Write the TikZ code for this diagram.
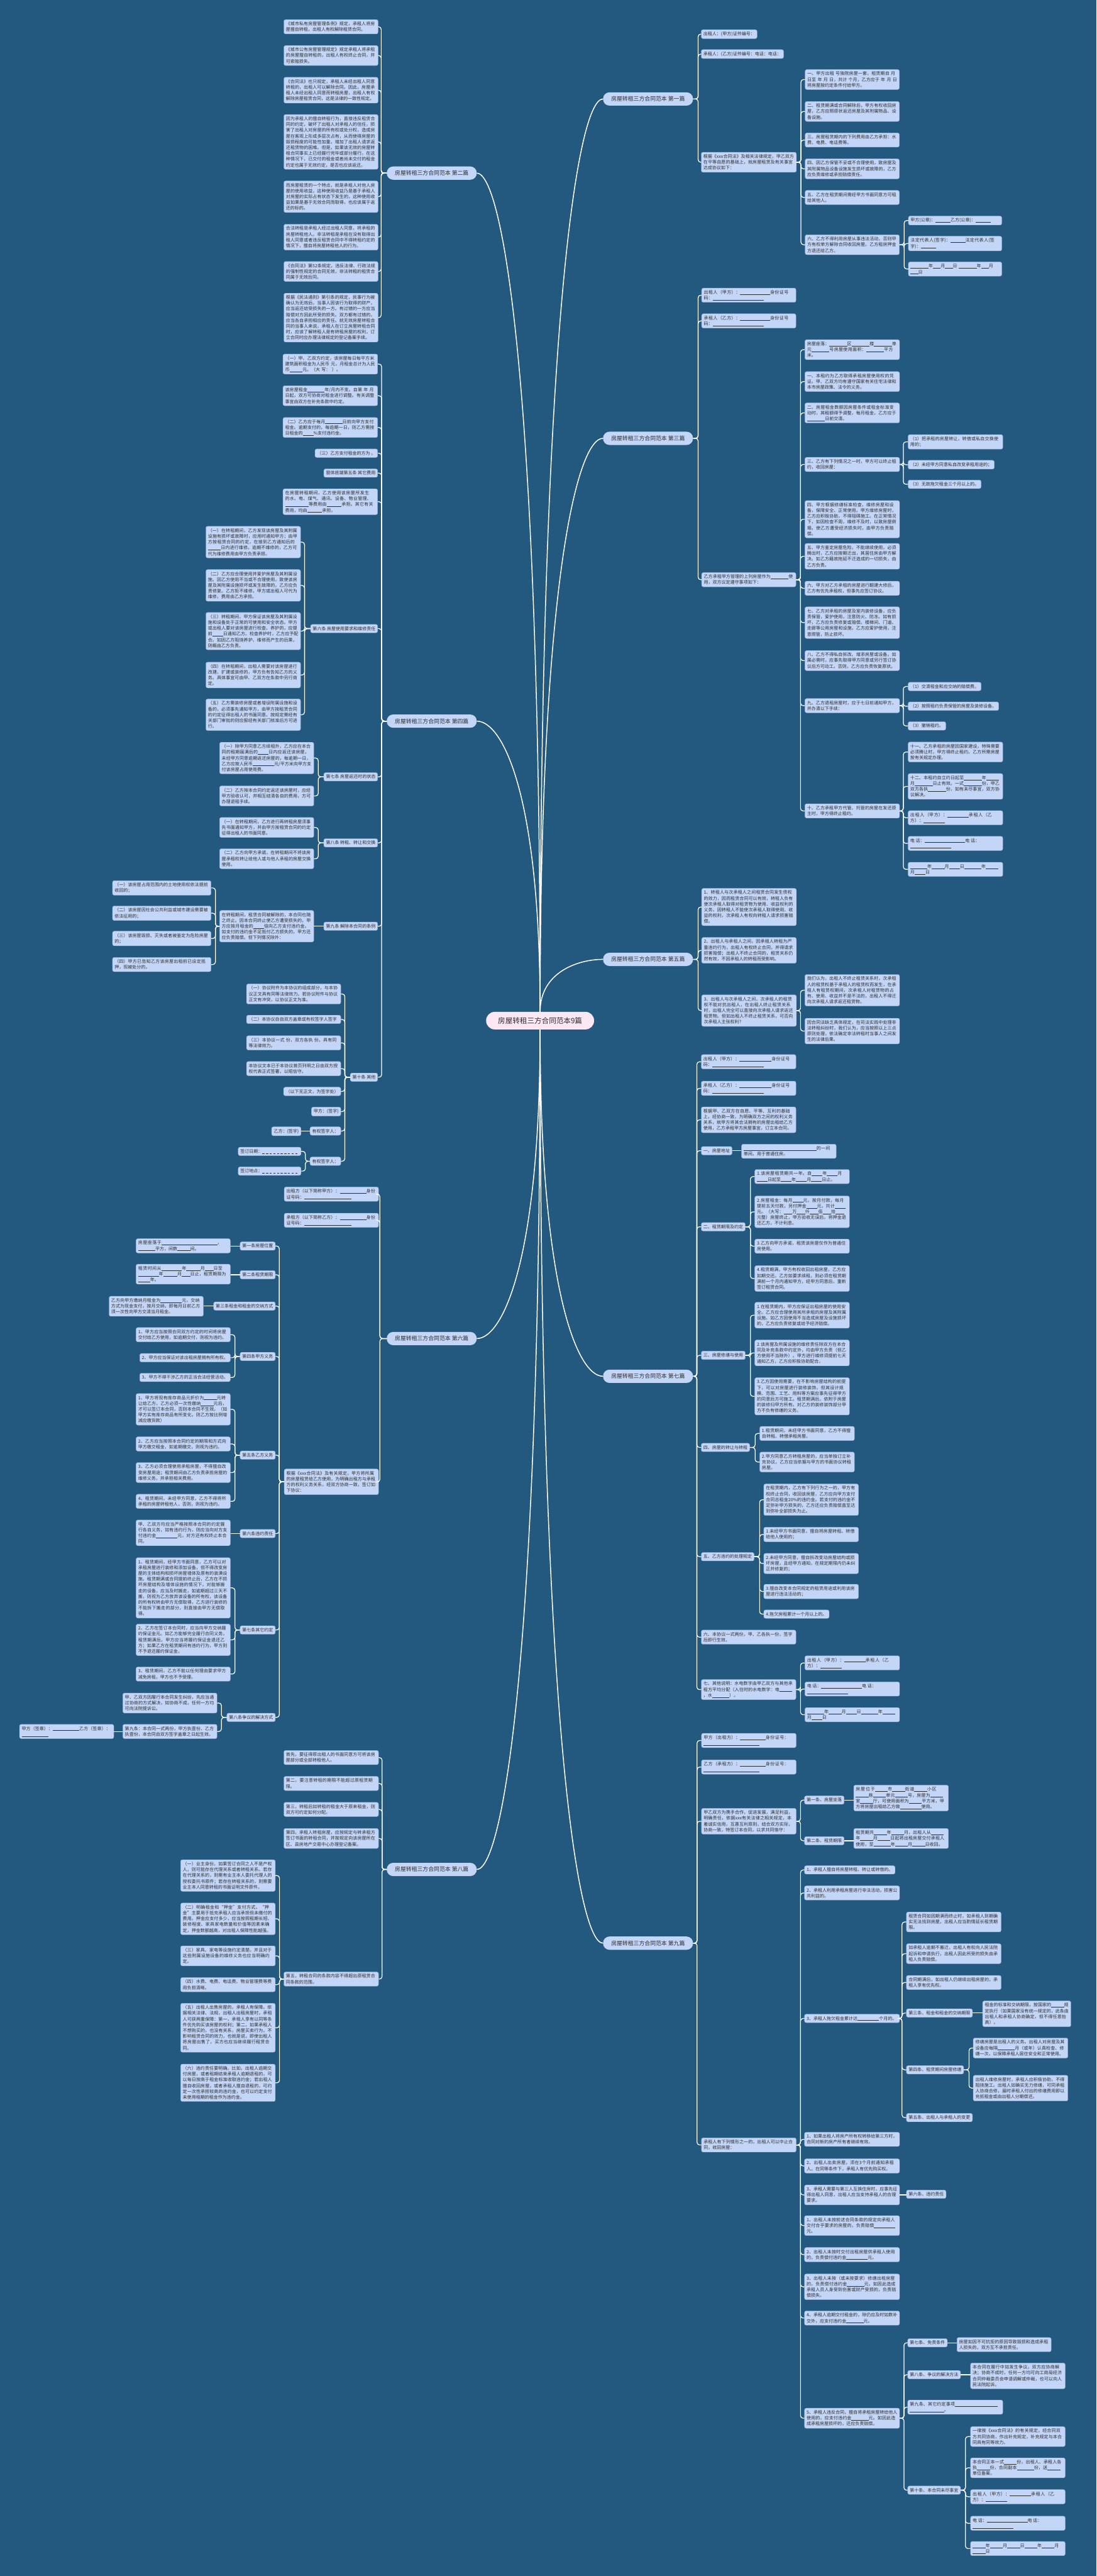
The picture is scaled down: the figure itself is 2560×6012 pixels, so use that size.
\documentclass[tikz,border=0pt]{standalone}
\usepackage{fontspec}
\setmainfont{Noto Sans CJK SC}
\XeTeXlinebreaklocale "zh"
\XeTeXlinebreakskip = 0pt plus 1pt
\setlength\parindent{0pt}
\usetikzlibrary{calc}
\definecolor{bgc}{HTML}{23597E}
\definecolor{leafc}{HTML}{C4D6F7}
\definecolor{leafb}{HTML}{9DB6DF}
\definecolor{pinkc}{HTML}{FCE7F5}
\definecolor{txtc}{HTML}{2B2B2B}
\newcommand\blnk[1]{\hskip0pt\rule[-1pt]{#1pt}{0.7pt}\hskip0pt}
\newcommand\dd{\blnk{5}\hspace{3.5pt}}
\newcommand\bxL[5]{\node[leaf,anchor=north east,text width=#4pt] (#1) at (#2,#3) {#5};}
\newcommand\bxR[5]{\node[leaf,anchor=north west,text width=#4pt] (#1) at (#2,#3) {#5};}
\newcommand\lbL[4]{\node[leaf,anchor=north east] (#1) at (#2,#3) {#4};}
\newcommand\lbR[4]{\node[leaf,anchor=north west] (#1) at (#2,#3) {#4};}
\newcommand\joinL[3]{\draw[conn] (#1.west) -- (#1.west -| #3) -- (#2.east -| #3) -- (#2.east);}
\newcommand\joinR[3]{\draw[conn] (#1.east) -- (#1.east -| #3) -- (#2.west -| #3) -- (#2.west);}
\newcommand\lineL[2]{\draw[conn] (#1.west) -- (#1.west -| #2.east);}
\newcommand\lineR[2]{\draw[conn] (#1.east) -- (#1.east -| #2.west);}
\tikzset{
  leaf/.style={fill=leafc,draw=leafb,line width=0.6pt,rounded corners=4pt,inner xsep=5pt,inner ysep=5pt,
    font=\fontsize{10.3}{13.5}\selectfont,text=txtc,align=left},
  branch/.style={fill=leafc,rounded corners=15pt,minimum width=210pt,minimum height=31pt,inner xsep=10pt,
    font=\fontsize{13}{15}\selectfont,text=txtc},
  centre/.style={fill=pinkc,rounded corners=20pt,minimum width=252pt,minimum height=41pt,
    font=\fontsize{17}{20}\selectfont,text=txtc},
  conn/.style={draw=white,line width=1.8pt,rounded corners=6pt},
  mainc/.style={draw=white,line width=2.2pt}
}
\begin{document}
\begin{tikzpicture}[x=1pt,y=-1pt]
\useasboundingbox (0,0) rectangle (2560,6012);
\fill[bgc] (0,0) rectangle (2560,6012);

% centre and branches
\node[centre] (C) at (1261,2382) {房屋转租三方合同范本9篇};
\node[branch] (B1) at (1513,231) {房屋转租三方合同范本 第一篇};
\node[branch] (B2) at (1008,404) {房屋转租三方合同范本 第二篇};
\node[branch] (B3) at (1513,1023) {房屋转租三方合同范本 第三篇};
\node[branch] (B4) at (1008,1683) {房屋转租三方合同范本 第四篇};
\node[branch] (B5) at (1513,2239) {房屋转租三方合同范本 第五篇};
\node[branch] (B6) at (1008,3124) {房屋转租三方合同范本 第六篇};
\node[branch] (B7) at (1513,3212) {房屋转租三方合同范本 第七篇};
\node[branch] (B8) at (1008,4363) {房屋转租三方合同范本 第八篇};
\node[branch] (B9) at (1513,4535) {房屋转租三方合同范本 第九篇};
\draw[mainc] (C.north) .. controls (1261,764) and (1348,231) .. (B1.west);
\draw[mainc] (C.north) .. controls (1261,1358) and (1348,1023) .. (B3.west);
\draw[mainc] (C.north) .. controls (1261,2270) and (1348,2239) .. (B5.west);
\draw[mainc] (C.north) .. controls (1261,893) and (1173,404) .. (B2.east);
\draw[mainc] (C.north) .. controls (1261,1853) and (1173,1683) .. (B4.east);
\draw[mainc] (C.south) .. controls (1261,3010) and (1348,3212) .. (B7.west);
\draw[mainc] (C.south) .. controls (1261,4002) and (1348,4535) .. (B9.west);
\draw[mainc] (C.south) .. controls (1261,2944) and (1173,3124) .. (B6.east);
\draw[mainc] (C.south) .. controls (1261,3873) and (1173,4363) .. (B8.east);

% ===== 第二篇 =====
\coordinate (s2) at (890,0);
\bxL{a1}{883}{45.5}{210}{《城市私有房屋管理条例》规定，承租人将房屋擅自转租，出租人有权解除租赁合同。}
\bxL{a2}{883}{106}{210}{《城市公有房屋管理规定》规定承租人将承租的房屋擅自转租的，出租人有权终止合同，并可索赔损失。}
\bxL{a3}{883}{180}{210}{《合同法》也只规定，承租人未经出租人同意转租的，出租人可以解除合同。因此，房屋承租人未经出租人同意而转租房屋，出租人有权解除房屋租赁合同，这是法律的一致性规定。}
\bxL{a4}{883}{267}{210}{因为承租人的擅自转租行为，直接违反租赁合同的约定，破坏了出租人对承租人的信任，损害了出租人对房屋的所有权或处分权，造成房屋在客观上形成多层次占有，从而使得房屋的毁损程度的可能性加重，增加了出租人请求返还租赁物的困难。但是，如果该无效的房屋转租合同事实上已经履行完毕或部分履行。在这种情况下，已交付的租金或者尚未交付的租金约定也属于无效约定，是否也应该返还。}
\bxL{a5}{883}{422}{210}{而房屋租赁的一个特点，就是承租人对他人房屋的使用收益，这种使用收益乃是基于承租人对房屋的实际占有状态下发生的，这种使用收益如果是基于无效合同而取得，也应该属于返还的标的。}
\bxL{a6}{883}{523}{210}{合法转租是承租人经过出租人同意，将承租的房屋转租他人。非法转租是承租在没有取得出租人同意或者违反租赁合同中不得转租约定的情况下，擅自将房屋转租他人的行为。}
\bxL{a7}{883}{610}{210}{《合同法》第52条规定，违反法律、行政法规的强制性规定的合同无效，非法转租的租赁合同属于无效后同。}
\bxL{a8}{883}{684}{210}{根据《民法通则》第引条的规定，民事行为被确认为无效后，当事人因该行为取得的财产，应当返还给受损失的一方。有过错的一方应当赔偿对方因此所受的损失。双方都有过错的，应当各自承担相应的责任。就无效房屋转租合同的当事人来说，承租人在订立房屋转租合同时，应该了解转租人是有转租房屋的权利，订立合同时应办理法律规定的登记备案手续。}
\foreach \c in {a1,a2,a3,a4,a5,a6,a7,a8} {\joinL{B2}{\c}{s2}}

% ===== 第四篇 =====
\coordinate (s4) at (891,0);
\coordinate (s4a) at (711,0);
\coordinate (s4b) at (743,0);
\coordinate (s4c) at (503,0);
\coordinate (s4d) at (805,0);
\coordinate (s4e) at (713,0);
\bxL{d1}{882}{826}{211}{（一）甲、乙双方约定，该房屋每日每平方米建筑面积租金为人民币 元，月租金总计为人民币\blnk{30}元。（大 写： ）。}
\bxL{d2}{882}{900}{211}{该房屋租金\blnk{40}年/月内不变。自第 年 月 日起，双方可协商对租金进行调整。有关调整事宜由双方在补充条款中约定。}
\bxL{d3}{882}{974}{211}{（二）乙方应于每月\blnk{40}日前向甲方支付租金。逾期支付的，每逾期一日，则乙方需按日租金的\blnk{25}\%支付违约金。}
\lbL{d4}{882}{1047.5}{（三）乙方支付租金的方为 。}
\lbL{d5}{882}{1094}{窗体底端第五条 其它费用}
\bxL{d6}{882}{1140.5}{211}{在房屋转租期间，乙方使用该房屋所发生的水、电、煤气、通讯、设备、物业管理、\blnk{55}等费用由\blnk{35}承担。其它有关费用，均由\blnk{35}承担。}
\lbL{d7}{882}{1457}{第六条 房屋使用要求和维修责任}
\bxL{d7a}{702}{1228}{211}{（一）在转租期间，乙方发现该房屋及其附属设施有损坏或故障时，应用时通知甲方；由甲方按租赁合同的约定，在接到乙方通知后的\blnk{30}日内进行维修。逾期不维修的，乙方可代为维修费用由甲方负责承担。}
\bxL{d7b}{702}{1329}{211}{（二）乙方应合理使用并爱护房屋及其附属设施。因乙方使用不当或不合理使用，致使该房屋及其附属设施损坏或发生故障的，乙方应负责修复。乙方拒不维修，甲方或出租人可代为维修，费用由乙方承担。}
\bxL{d7c}{702}{1429}{211}{（三）转租期间，甲方保证该房屋及其附属设施和设备处于正常的可使用和安全状态。甲方或出租人要对该房屋进行检查、养护的，应提前\blnk{25}日通知乙方。检查养护时，乙方应予配合。如因乙方阻挠养护、维修而产生的后果，则概由乙方负责。}
\bxL{d7d}{702}{1545}{211}{（四）在转租期间，出租人需要对该房屋进行改建、扩建或装修的，甲方负有告知乙方的义务。具体事宜可由甲、乙双方在条款中另行商定。}
\bxL{d7e}{702}{1631}{211}{（五）乙方需装修房屋或者增设附属设施和设备的，必须事先通知甲方，由甲方按租赁合同的约定征得出租人的书面同意。按规定需经有关部门审批的则应报经有关部门核准后方可进行。}
\lbL{d8}{882}{1803}{第七条 房屋返还时的状态}
\bxL{d8a}{733}{1732}{210}{（一）除甲方同意乙方续租外，乙方应在本合同的租期届满后的\blnk{25}日内应返还该房屋，未经甲方同意逾期返还房屋的，每逾期一日，乙方应按人民币\blnk{50}元/平方米向甲方支付该房屋占用使用费。}
\bxL{d8b}{733}{1834}{210}{（二）乙方按本合同约定返还该房屋时，应经甲方验收认可，并相互结清各自的费用，方可办理退租手续。}
\lbL{d9}{882}{1957}{第八条 转租、转让和交换}
\bxL{d9a}{733}{1907.5}{210}{（一）在转租期间，乙方进行再转租房屋须事先书面通知甲方，并由甲方按租赁合同的约定征得出租人的书面同意。}
\bxL{d9b}{733}{1980.5}{210}{（二）乙方向甲方承诺，在转租期间不将该房屋承租权转让给他人或与他人承租的房屋交换使用。}
\lbL{d10}{882}{2151.6}{第九条 解除本合同的条例}
\bxL{d10a}{733}{2124.5}{210}{在转租期间，租赁合同被解除的，本合同也随之终止。因本合同终止使乙方遭受损失的，甲方应按月租金的\blnk{25}倍向乙方支付违约金。如支付的违约金不足抵付乙方损失的，甲方还应负责赔偿。但下列情况除外：}
\bxL{d10a1}{493}{2055}{220}{（一）该房屋占用范围内的土地使用权依法提前收回的；}
\bxL{d10a2}{493}{2114}{220}{（二）该房屋因社会公共利益或城市建设需要被依法征用的；}
\bxL{d10a3}{493}{2173}{220}{（三）该房屋毁损、灭失或者被鉴定为危险房屋的；}
\bxL{d10a4}{493}{2234}{220}{（四）甲方已告知乙方该房屋出租前已设定抵押，现被处分的。}
\lbL{d11}{882}{2504}{第十条 其他}
\bxL{d11a}{796}{2296}{210}{（一）协议附件为本协议的组成部分，与本协议正文具有同等法律效力。若协议附件与协议正文有冲突，以协议正文为准。}
\bxL{d11b}{796}{2369}{210}{（二）本协议自自双方盖章或有权签字人签字}
\bxL{d11c}{796}{2417}{210}{（三）本协议一式 份，双方各执 份，具有同等法律效力。}
\bxL{d11d}{796}{2477}{210}{本协议文本已于本协议首页列明之日由双方授权代表正式签署，以昭信守。}
\lbL{d11e}{796}{2537}{（以下无正文，为签字处）}
\lbL{d11f}{796}{2583.5}{甲方：(签字)}
\lbL{d11g}{796}{2629.5}{有权签字人：}
\lbL{d11g1}{703}{2629.5}{乙方：(签字)}
\lbL{d11h}{796}{2700}{有权签字人：}
\lbL{d11h1}{703}{2677}{签订日期：\dd\dd\dd\dd\dd\dd\dd\dd\dd\dd}
\lbL{d11h2}{703}{2723}{签订地点：\dd\dd\dd\dd\dd\dd\dd\dd\dd\dd}
\foreach \c in {d1,d2,d3,d4,d5,d6,d7,d8,d9,d10,d11} {\joinL{B4}{\c}{s4}}
\foreach \c in {d7a,d7b,d7c,d7d,d7e} {\joinL{d7}{\c}{s4a}}
\foreach \c in {d8a,d8b} {\joinL{d8}{\c}{s4b}}
\foreach \c in {d9a,d9b} {\joinL{d9}{\c}{s4b}}
\lineL{d10}{d10a}
\foreach \c in {d10a1,d10a2,d10a3,d10a4} {\joinL{d10a}{\c}{s4c}}
\foreach \c in {d11a,d11b,d11c,d11d,d11e,d11f,d11g,d11h} {\joinL{d11}{\c}{s4d}}
\lineL{d11g}{d11g1}
\foreach \c in {d11h1,d11h2} {\joinL{d11h}{\c}{s4e}}

% ===== 第六篇 =====
\coordinate (s6) at (887,0);
\coordinate (s6a) at (652,0);
\coordinate (s6b) at (548.5,0);
\coordinate (s6c) at (517,0);
\bxL{f1}{884}{2770}{210}{出租方（以下简称甲方）：\blnk{62}身份证号码：\blnk{110}}
\bxL{f2}{884}{2831}{210}{承租方（以下简称乙方）：\blnk{62}身份证号码：\blnk{110}}
\bxL{f3}{884}{3428}{210}{根据《xxx合同法》及有关规定，甲方将所属的房屋租赁给乙方使用，为明确出租方与承租方的权利义务关系，经双方协商一致，签订如下协议：}
\lbL{g1}{643}{2898}{第一条房屋位置}
\bxL{g1a}{538}{2890.6}{210}{房屋座落于\blnk{130}，\blnk{40}平方，间数\blnk{30}间。}
\lbL{g2}{643}{2965}{第二条租赁期限}
\bxL{g2a}{538}{2950}{210}{租赁时间从\blnk{48}年\blnk{33}月\blnk{20}日至\blnk{48}年\blnk{33}月\blnk{20}日止，租赁期限为\blnk{28}年。}
\lbL{g3}{643}{3038}{第三条租金和租金的交纳方式}
\bxL{g3a}{475}{3025}{210}{乙方向甲方缴纳月租金为\blnk{50}元，交纳方式为现金支付，按月交纳，即每月日前乙方须一次性向甲方交清当月租金。}
\lbL{g4}{643}{3155.7}{第四条甲方义务}
\bxL{g4a}{538}{3098}{210}{1、甲方应当按照合同双方约定的时间将房屋交付给乙方使用，如逾期交付，则视为违约。}
\lbL{g4b}{538}{3158.6}{2、甲方应当保证对该出租房屋拥有所有权。}
\lbL{g4c}{538}{3204.6}{3、甲方不得干涉乙方的正当合法经营活动。}
\lbL{g5}{643}{3386}{第五条乙方义务}
\bxL{g5a}{538}{3252}{210}{1、甲方将现有库存商品元折价为\blnk{30}元转让给乙方，乙方必须一次性缴纳\blnk{30}元后，才可以签订本合同，否则本合同不生效。（如甲方实有库存商品有所变化，则乙方按比例增减应缴货款）}
\bxL{g5b}{538}{3353}{210}{2、乙方应当按照本合同约定的期限和方式向甲方缴交租金，如逾期缴交，则视为违约。}
\bxL{g5c}{538}{3413}{210}{3、乙方必须合理使用承租房屋，不得擅自改变房屋用途；租赁期间由乙方负责承担房屋的维修义务，并承担相关费用。}
\bxL{g5d}{538}{3487}{210}{4、租赁期间，未经甲方同意，乙方不得将所承租的房屋转租他人，否则，则视为违约。}
\lbL{g6}{643}{3569}{第六条违约责任}
\bxL{g6a}{538}{3547}{210}{甲、乙双方均应当严格按照本合同的约定履行各自义务，如有违约行为，则应当向对方支付违约金\blnk{50}元，对方还有权终止本合同。}
\lbL{g7}{643}{3794}{第七条其它约定}
\bxL{g7a}{538}{3635}{210}{1、租赁期间，经甲方书面同意，乙方可以对承租房屋进行装修和添加设备，但不得改变房屋的主体结构和损坏房屋墙体及原有的装潢设施。租赁期满或合同提前终止后，乙方在不损坏房屋结构及墙体设施的情况下，对能够搬走的设备，应当及时搬走，如逾期超过三天不搬，则视为乙方放弃该设备的所有权，该设备的所有权转由甲方无偿取得，乙方进行装修的不能拆下搬走的部分，则直接由甲方无偿取得。}
\bxL{g7b}{538}{3790}{210}{2、乙方在签订本合同时，应当向甲方交纳履约保证金元。如乙方能够完全履行合同义务，租赁期满后，甲方应当将履约保证金退还乙方；如果乙方在租赁期间有违约行为，甲方则不予退还履约保证金。}
\bxL{g7c}{538}{3890}{210}{3、租赁期间，乙方不能以任何理由要求甲方减免房租，甲方也不予受理。}
\lbL{g8}{643}{3998}{第八条争议的解决方式}
\bxL{g8a}{507}{3951}{210}{甲、乙双方因履行本合同发生纠纷，先应当通过协商的方式解决，如协商不成，任何一方均可向法院提诉讼。}
\bxL{g8b}{507}{4024}{210}{第九条：本合同一式两份，甲方执壹份、乙方执壹份，本合同自双方签字盖章之日起生效。}
\bxL{g8b1}{266}{4024}{210}{甲方（签章）：\blnk{62}乙方（签章）：\blnk{62}}
\foreach \c in {f1,f2,f3} {\joinL{B6}{\c}{s6}}
\foreach \c in {g1,g2,g3,g4,g5,g6,g7,g8} {\joinL{f3}{\c}{s6a}}
\lineL{g1}{g1a}
\lineL{g2}{g2a}
\lineL{g3}{g3a}
\lineL{g6}{g6a}
\foreach \c in {g4a,g4b,g4c} {\joinL{g4}{\c}{s6b}}
\foreach \c in {g5a,g5b,g5c,g5d} {\joinL{g5}{\c}{s6b}}
\foreach \c in {g7a,g7b,g7c} {\joinL{g7}{\c}{s6b}}
\foreach \c in {g8a,g8b} {\joinL{g8}{\c}{s6c}}
\lineL{g8b}{g8b1}

% ===== 第八篇 =====
\coordinate (s8) at (892,0);
\coordinate (s8a) at (652.6,0);
\bxL{h1}{884}{4085}{211}{首先，要征得原出租人的书面同意方可将该房屋部分或全部转租他人。}
\bxL{h2}{884}{4145.5}{211}{第二，要注意转租的期限不能超过原租赁期限。}
\bxL{h3}{884}{4206}{211}{第三，转租后如转租的租金大于原来租金，则双方可约定如何分配。}
\bxL{h4}{884}{4267}{211}{第四，承租人转租房屋，应按规定与转承租方签订书面的转租合同，并按规定向该房屋所在区、县房地产交易中心办理登记备案。}
\bxL{h5}{884}{4602}{211}{第五，转租合同的条款内容不得超出原租赁合同条款的范围。}
\bxL{h5a}{643}{4340}{211}{（一）业主身份。如果签订合同之人不是产权人，则可能存在代理关系或者转租关系。若存在代理关系的，则需有业主本人委托代理人的授权委托书原件；若存在转租关系的，则需要业主本人同意转租的书面证明文件原件。}
\bxL{h5b}{643}{4441}{211}{（二）明确租金和“押金”支付方式。“押金”主要用于抵充承租人应当承担但未缴付的费用。押金应支付多少，应当按照租期长短、装修程度、家具家电数量和价值等因素来确定，押金数额越高，对出租人保障性能越强。}
\bxL{h5c}{643}{4541}{211}{（三）家具、家电等设施约定清楚。并且对于这些附属设施设备的维修义务也应当明确约定。}
\bxL{h5d}{643}{4615}{211}{（四）水费、电费、电话费、物业管理费等费用负担清晰。}
\bxL{h5e}{643}{4675}{211}{（五）出租人出售房屋的，承租人有保障。依据相关法律、法规，出租人出租房屋时，承租人可获两重保障：第一，承租人享有以同等条件优先购买该房屋的权利；第二，如果承租人不想购买的，也没有关系，房屋买卖行为，不影响租赁合同的效力，也就是说，即使出租人将房屋出售了，买方也应当继续履行租赁合同。}
\bxL{h5f}{643}{4817}{211}{（六）违约责任要明确。比如，出租人逾期交付房屋，或者租期结束承租人逾期退租的，可以每日按高于租金标准收取违约金；若出租人擅自收回房屋，或者承租人擅自退租的，可约定一次性承担较高的违约金，也可以约定支付未使用租期的租金作为违约金。}
\foreach \c in {h1,h2,h3,h4,h5} {\joinL{B8}{\c}{s8}}
\foreach \c in {h5a,h5b,h5c,h5d,h5e,h5f} {\joinL{h5}{\c}{s8a}}

% ===== 第一篇 =====
\coordinate (s1) at (1630,0);
\coordinate (s1a) at (1870,0);
\coordinate (s1b) at (2111,0);
\lbR{i1}{1637}{69}{出租人：(甲方)证件编号：}
\lbR{i2}{1637}{115.5}{承租人：(乙方)证件编号：电话：电话：}
\bxR{i3}{1637}{355}{212}{根据《xxx合同法》及相关法律规定，甲乙双方在平等自愿的基础上，就房屋租赁及有关事宜达成协议如下：}
\bxR{i3a}{1879.5}{162}{210}{一、甲方出租 号独院房屋一套，租赁期自 月 日至 年 月 日，共计 个月，乙方应于 年 月 日将房屋按约定条件付给甲方。}
\bxR{i3b}{1879.5}{236.5}{210}{二、租赁期满或合同解除后，甲方有权收回房屋，乙方应照原状返还房屋及其附属物品、设备设施。}
\bxR{i3c}{1879.5}{310}{210}{三、房屋租赁期内的下列费用由乙方承担：水费、电费、电话费等。}
\bxR{i3d}{1879.5}{370.5}{210}{四、因乙方保管不妥或不合理使用，致房屋及其附属物品设备设施发生损坏或故障的，乙方应负责维修或承担赔偿责任。}
\bxR{i3e}{1879.5}{444}{210}{五、乙方在租赁期间需经甲方书面同意方可租给其他人。}
\bxR{i3f}{1879.5}{547.6}{210}{六、乙方不得利用房屋从事违法活动，否则甲方有权单方解除合同收回房屋。乙方租房押金方退还给乙方。}
\bxR{i3f1}{2120.6}{504}{208}{甲方(公章)：\blnk{35} 乙方(公章)：\blnk{35}}
\bxR{i3f2}{2120.6}{551}{208}{法定代表人(签字)：\blnk{35} 法定代表人(签字)：\blnk{35}}
\bxR{i3f3}{2120.6}{611}{208}{\blnk{42}年\blnk{18}月\blnk{18}日 \blnk{42}年\blnk{18}月\blnk{18}日}
\foreach \c in {i1,i2,i3} {\joinR{B1}{\c}{s1}}
\foreach \c in {i3a,i3b,i3c,i3d,i3e,i3f} {\joinR{i3}{\c}{s1a}}
\foreach \c in {i3f1,i3f2,i3f3} {\joinR{i3f}{\c}{s1b}}

% ===== 第三篇 =====
\coordinate (s3) at (1630,0);
\coordinate (s3a) at (1869,0);
\coordinate (s3b) at (2109,0);
\bxR{j1}{1638}{672}{210}{出租人（甲方）：\blnk{70}身份证号码：\blnk{120}}
\bxR{j2}{1638}{732}{210}{承租人（乙方）：\blnk{70}身份证号码：\blnk{120}}
\bxR{j3}{1638}{1336}{210}{乙方承租甲方管理的上列房屋作为\blnk{42}使用，双方议定遵守事项如下：}
\bxR{j3a}{1879}{792.5}{211}{房屋座落：\blnk{42}区\blnk{42}楼\blnk{42}单元\blnk{42}号房屋使用面积：\blnk{42}平方米。}
\bxR{j3b}{1879}{867}{211}{一、本租约为乙方取得承租房屋使用权的凭证。甲、乙双方均有遵守国家有关住宅法律和本市房屋政策、法令的义务。}
\bxR{j3c}{1879}{940}{211}{二、房屋租金数额因房屋条件或租金标准变动时，其租额得予调整，每月租金，乙方应于\blnk{42}日前交清。}
\bxR{j3d}{1879}{1067}{211}{三、乙方有下列情况之一时，甲方可以终止租约，收回房屋：}
\bxR{j3d1}{2120}{1014}{211}{（1）把承租的房屋转让，转借或私自交换使用的；}
\lbR{j3d2}{2120}{1074}{（2）未经甲方同意私自改变承租用途的；}
\lbR{j3d3}{2120}{1120}{（3）无故拖欠租金三个月以上的。}
\bxR{j3e}{1879}{1168}{211}{四、甲方根据修缮标准检查，维修房屋和设备，保障安全、正常使用。甲方维修房屋时，乙方应积极协助，不得阻碍施工。在正常情况下，如因检查不周，维修不及时，以致房屋倒塌，使乙方遭受经济损失时，由甲方负责赔偿。}
\bxR{j3f}{1879}{1268}{211}{五、甲方鉴定房屋危险，不能继续使用，必须腾出时，乙方应按期迁出，其居住房由甲方解决。如乙方藉故拖延不迁造成的一切损失，由乙方负责。}
\bxR{j3g}{1879}{1356}{211}{六、甲方对乙方承租的房屋进行翻建大修后，乙方有优先承租权，但事先应签订协议。}
\bxR{j3h}{1879}{1416}{211}{七、乙方对承租的房屋及室内装修设备，应负责保管，爱护使用，注意防火、防冻。如有损坏，乙方应负责修复或赔偿。楼梯间、门道、走廊等公用房屋和设施，乙方应爱护使用，注意照管，防止损坏。}
\bxR{j3i}{1879}{1518}{211}{八、乙方不得私自拆改、增添房屋或设备。如属必需时，应事先取得甲方同意或另行签订协议后方可动工。否则，乙方应负责恢复原状。}
\bxR{j3j}{1879}{1630}{211}{九、乙方退租房屋时，应于七日前通知甲方，并办清以下手续：}
\lbR{j3j1}{2120}{1592}{（1）交清租金和应交纳的赔偿费。}
\lbR{j3j2}{2120}{1638}{（2）按照租约负责保管的房屋及装修设备。}
\lbR{j3j3}{2120}{1684}{（3）撤销租约。}
\bxR{j3k}{1879}{1875.6}{211}{十、乙方承租甲方代管、托管的房屋在发还原主时，甲方得终止租约。}
\bxR{j3k1}{2120}{1731.5}{211}{十一、乙方承租的房屋因国家建设，特殊需要必须腾让时，甲方得终止租约。乙方所需房屋按有关规定办理。}
\bxR{j3k2}{2120}{1805}{211}{十二、本租约自立约日起至\blnk{42}年\blnk{30}月\blnk{42}日止有效。一式\blnk{42}份，甲乙双方各执\blnk{42}份，如有未尽事宜，双方协议解决。}
\bxR{j3k3}{2120}{1891.6}{211}{出租人（甲方）：\blnk{50}承租人（乙方）：\blnk{50}}
\bxR{j3k4}{2120}{1951.5}{211}{电话：\blnk{95}电话：\blnk{95}}
\bxR{j3k5}{2120}{2012}{211}{\blnk{40}年\blnk{30}月\blnk{25}日\blnk{40}年\blnk{30}月\blnk{25}日}
\foreach \c in {j1,j2,j3} {\joinR{B3}{\c}{s3}}
\foreach \c in {j3a,j3b,j3c,j3d,j3e,j3f,j3g,j3h,j3i,j3j,j3k} {\joinR{j3}{\c}{s3a}}
\foreach \c in {j3d1,j3d2,j3d3} {\joinR{j3d}{\c}{s3b}}
\foreach \c in {j3j1,j3j2,j3j3} {\joinR{j3j}{\c}{s3b}}
\foreach \c in {j3k1,j3k2,j3k3,j3k4,j3k5} {\joinR{j3k}{\c}{s3b}}

% ===== 第五篇 =====
\coordinate (s5) at (1630,0);
\coordinate (s5a) at (1869,0);
\bxR{k1}{1638}{2073}{211}{1、转租人与次承租人之间租赁合同发生债权的效力，因而租赁合同可以有效，转租人负有使次承租人取得对租赁物为使用、收益权利的义务，因转租人不能使次承租人取得使用、收益的权利，次承租人有权向转租人请求损害赔偿。}
\bxR{k2}{1638}{2187.5}{211}{2、出租人与承租人之间，因承租人转租为严重违约行为，出租人有权终止合同，并得请求损害赔偿；出租人不终止合同的，租赁关系仍然有效，不因承租人的转租而受影响。}
\bxR{k3}{1638}{2321.5}{211}{3、出租人与次承租人之间，次承租人的租赁权不能对抗出租人，在出租人终止租赁关系时，出租人完全可以直接向次承租人请求返还租赁物。但如出租人不终止租赁关系，可否向次承租人主张权利？}
\bxR{k3a}{1879}{2274}{211}{我们认为，出租人不终止租赁关系时，次承租人的租赁权基于承租人的租赁权而发生，在承租人有租赁权期间，次承租人对租赁物的占有、使用、收益并不是不法的，出租人不得迁向次承租人请求返还租赁物。}
\bxR{k3b}{1879}{2376}{211}{因合同法缺乏具体规定，在司法实践中处理非法转租纠纷时，我们认为，应当按照以上三点原则处理，依法确定非法转租时当事人之间发生的法律后果。}
\foreach \c in {k1,k2,k3} {\joinR{B5}{\c}{s5}}
\foreach \c in {k3a,k3b} {\joinR{k3}{\c}{s5a}}

% ===== 第七篇 =====
\coordinate (s7) at (1627,0);
\coordinate (s7a) at (1752,0);
\coordinate (s7b) at (1763,0);
\coordinate (s7c) at (1773.6,0);
\coordinate (s7d) at (1869,0);
\bxR{m1}{1637}{2461}{211}{出租人（甲方）：\blnk{75}身份证号码：\blnk{120}}
\bxR{m2}{1637}{2523}{211}{承租人（乙方）：\blnk{75}身份证号码：\blnk{120}}
\bxR{m3}{1637}{2583}{211}{根据甲、乙双方在自愿、平等、互利的基础上，经协商一致，为明确双方之间的权利义务关系，就甲方将其合法拥有的房屋出租给乙方使用，乙方承租甲方房屋事宜，订立本合同。}
\lbR{m4}{1637}{2675.5}{一、房屋地址}
\bxR{m4a}{1731}{2670}{211}{\blnk{170}的一间单间。用于普通住房。}
\lbR{m5}{1637}{2853}{二、租赁期限及约定}
\bxR{m5a}{1762}{2729}{211}{1.该房屋租赁期共一年。自\blnk{25}年\blnk{25}月\blnk{25}日起至\blnk{25}年\blnk{25}月\blnk{25}日止。}
\bxR{m5b}{1762}{2791}{211}{2.房屋租金：每月\blnk{25}元，按月付款，每月提前五天付款，另付押金\blnk{25}元，共计\blnk{25}元。（大写：\blnk{20}万\blnk{20}仟\blnk{20}佰\blnk{20}拾\blnk{20}元整）房屋终止，甲方验收无误后，将押金退还乙方，不计利息。}
\bxR{m5c}{1762}{2891.5}{211}{3.乙方向甲方承诺，租赁该房屋仅作为普通住房使用。}
\bxR{m5d}{1762}{2953.5}{211}{4.租赁期满，甲方有权收回出租房屋，乙方应如期交还。乙方如要求续租，则必须在租赁期满前一个月内通知甲方，经甲方同意后，重新签订租赁合同。}
\lbR{m6}{1637}{3153}{三、房屋修缮与使用}
\bxR{m6a}{1762}{3039}{211}{1.在租赁期内，甲方应保证出租房屋的使用安全。乙方应合理使用其所承租的房屋及其附属设施。如乙方因使用不当造成房屋及设施损坏的，乙方应负责修复或给予经济赔偿。}
\bxR{m6b}{1762}{3127}{211}{2.该房屋及所属设施的维修责任除双方在本合同及补充条款中约定外，均由甲方负责（但乙方使用不当除外）。甲方进行维修须提前七天通知乙方，乙方应积极协助配合。}
\bxR{m6c}{1762}{3215}{211}{3.乙方因使用需要，在不影响房屋结构的前提下，可以对房屋进行装修装饰，但其设计规模、范围、工艺、用料等方案应事先征得甲方的同意后方可施工。租赁期满后，依附于房屋的装修归甲方所有。对乙方的装修装饰部分甲方不负有修缮的义务。}
\lbR{m7}{1637}{3368}{四、房屋的转让与转租}
\bxR{m7a}{1773.6}{3328.6}{211}{1.租赁期间，未经甲方书面同意，乙方不得擅自转租、转借承租房屋。}
\bxR{m7b}{1773.6}{3388.5}{211}{2.甲方同意乙方转租房屋的，应当单独订立补充协议，乙方应当依据与甲方的书面协议转租房屋。}
\lbR{m8}{1637}{3623}{五、乙方违约的处理规定}
\bxR{m8a}{1783}{3463}{211}{在租赁期内，乙方有下列行为之一的，甲方有权终止合同，收回该房屋，乙方应向甲方支付合同总租金20\%的违约金。若支付的违约金不足弥补甲方损失的，乙方还应负责赔偿直至达到弥补全部损失为止。}
\bxR{m8b}{1783}{3564}{211}{1.未经甲方书面同意，擅自将房屋转租、转借给他人使用的；}
\bxR{m8c}{1783}{3625}{211}{2.未经甲方同意，擅自拆改变动房屋结构或损坏房屋，且经甲方通知，在规定期限内仍未纠正并修复的；}
\bxR{m8d}{1783}{3697}{211}{3.擅自改变本合同规定的租赁用途或利用该房屋进行违法活动的；}
\lbR{m8e}{1783}{3757}{4.拖欠房租累计一个月以上的。}
\bxR{m9}{1637}{3804}{211}{六、本协议一式两份，甲、乙各执一份，签字后即行生效。}
\bxR{m10}{1637}{3919.5}{211}{七、其他说明：水电数字由甲乙双方与其他承租方平均分配（入住时的水电数字：电\blnk{30}，水\blnk{40}）。}
\bxR{m10a}{1879}{3864}{211}{出租人（甲方）：\blnk{50}承租人（乙方）：\blnk{50}}
\bxR{m10b}{1879}{3925}{211}{电话：\blnk{95}电话：\blnk{95}}
\bxR{m10c}{1879}{3985}{211}{\blnk{40}年\blnk{30}月\blnk{25}日\blnk{40}年\blnk{30}月\blnk{25}日}
\foreach \c in {m1,m2,m3,m4,m5,m6,m7,m8,m9,m10} {\joinR{B7}{\c}{s7}}
\lineR{m4}{m4a}
\foreach \c in {m5a,m5b,m5c,m5d} {\joinR{m5}{\c}{s7a}}
\foreach \c in {m6a,m6b,m6c} {\joinR{m6}{\c}{s7a}}
\foreach \c in {m7a,m7b} {\joinR{m7}{\c}{s7b}}
\foreach \c in {m8a,m8b,m8c,m8d,m8e} {\joinR{m8}{\c}{s7c}}
\foreach \c in {m10a,m10b,m10c} {\joinR{m10}{\c}{s7d}}

% ===== 第九篇 =====
\coordinate (s9) at (1627.5,0);
\coordinate (s9a) at (1869,0);
\coordinate (s9c) at (2106,0);
\coordinate (s9d) at (2262.5,0);
\coordinate (s9e) at (2110.6,0);
\coordinate (s9f) at (2254,0);
\bxR{n1}{1637.5}{4045}{211}{甲方（出租方）：\blnk{60}身份证号：\blnk{130}}
\bxR{n2}{1637.5}{4107}{211}{乙方（承租方）：\blnk{60}身份证号：\blnk{130}}
\bxR{n3}{1637.5}{4220}{211}{甲乙双方为携手合作，促进发展，满足利益，明确责任，依据xxx有关法律之相关规定，本着诚实信用，互惠互利原则，结合双方实际，协商一致，特签订本合同，以求共同恪守：}
\lbR{n3a}{1878}{4191}{第一条、房屋坐落}
\bxR{n3a1}{1993}{4166}{211}{房屋位于\blnk{30}市\blnk{30}街道\blnk{30}小区\blnk{30}栋\blnk{30}单元\blnk{30}号，房屋为\blnk{30}室\blnk{30}厅，可使用面积为\blnk{30}平方米，甲方将房屋出租给乙方做\blnk{50}使用。}
\lbR{n3b}{1878}{4286}{第二条、租赁期限}
\bxR{n3b1}{1993}{4267}{211}{租赁期共\blnk{30}年\blnk{30}月，出租人从\blnk{30}年\blnk{30}月\blnk{30}日起将出租房屋交付承租人使用，至\blnk{40}年\blnk{30}月\blnk{30}日收回。}
\bxR{n4}{1637.5}{4989}{211}{承租人有下列情形之一的，出租人可以中止合同，收回房屋：}
\lbR{n4a}{1878}{4354}{1、承租人擅自将房屋转租、转让或转借的。}
\bxR{n4b}{1878}{4401}{212}{2、承租人利用承租房屋进行非法活动，损害公共利益的。}
\bxR{n4c}{1878}{4700.5}{212}{3、承租人拖欠租金累计达\blnk{50}个月的。}
\bxR{n4c1}{2116}{4462}{211}{租赁合同如因期满而终止时，如承租人到期确实无法找到房屋，出租人应当酌情延长租赁期限。}
\bxR{n4c2}{2116}{4536}{211}{如承租人逾期不搬迁，出租人有权向人民法院起诉和申请执行，出租人因此所受的损失由承租人负责赔偿。}
\bxR{n4c3}{2116}{4610}{211}{合同期满后，如出租人仍继续出租房屋的，承租人享有优先权。}
\lbR{n4c4}{2116}{4688}{第三条、租金和租金的交纳期限}
\bxR{n4c4a}{2294}{4669.5}{196}{租金的标准和交纳期限，按国家的\blnk{30}规定执行（如果国家没有统一规定的，此条由出租人和承租人协商确定，但不得任意抬高）。}
\lbR{n4c5}{2116}{4820.5}{第四条、租赁期间房屋修缮}
\bxR{n4c5a}{2272}{4756}{211}{修缮房屋是出租人的义务。出租人对房屋及其设备应每隔\blnk{40}月（或年）认真检查、修缮一次，以保障承租人居住安全和正常使用。}
\bxR{n4c5b}{2272}{4843}{211}{出租人维修房屋时，承租人应积极协助，不得阻挠施工。出租人如确实无力修缮，可同承租人协商合修，届时承租人付出的修缮费用即以充抵租金或由出租人分期偿还。}
\lbR{n4c6}{2116}{4932}{第五条、出租人与承租人的变更}
\bxR{n4d}{1878}{4976}{212}{1、如果出租人将房产所有权转移给第三方时，合同对新的房产所有者继续有效。}
\bxR{n4e}{1878}{5038}{212}{2、出租人出卖房屋，须在3个月前通知承租人。在同等条件下，承租人有优先购买权。}
\bxR{n4f}{1878}{5099}{212}{3、承租人需要与第三人互换住房时，应事先征得出租人同意，出租人应当支持承租人的合理要求。}
\lbR{n4f1}{2116}{5111}{第六条、违约责任}
\bxR{n4g}{1878}{5170.6}{212}{1、出租人未按前述合同条款的规定向承租人交付合乎要求的房屋的，负责赔偿\blnk{50}元。}
\bxR{n4h}{1878}{5245}{212}{2、出租人未按时交付出租房屋供承租人使用的，负责偿付违约金\blnk{50}元。}
\bxR{n4i}{1878}{5306.7}{212}{3、出租人未按（或未按要求）修缮出租房屋的，负责偿付违约金\blnk{40}元，如因此造成承租人员人身受到伤害或财产受损的，负责赔偿损失。}
\bxR{n4j}{1878}{5393}{212}{4、承租人逾期交付租金的，除仍应及时如数补交外，应支付违约金\blnk{40}元。}
\bxR{n4k}{1878}{5620}{212}{5、承租人违反合同，擅自将承租房屋转给他人使用的，应支付违约金\blnk{40}元。如因此造成承租房屋损坏的，还应负责赔偿。}
\lbR{n4k1}{2119}{5457.6}{第七条、免责条件}
\bxR{n4k1a}{2234}{5455}{210}{房屋如因不可抗拒的原因导致毁损和造成承租人损失的，双方互不承担责任。}
\lbR{n4k2}{2119}{5532}{第八条、争议的解决方法}
\bxR{n4k2a}{2265.6}{5514.5}{211}{本合同在履行中如发生争议，双方应协商解决；协商不成时，任何一方均可向工商局经济合同仲裁委员会申请调解或仲裁，也可以向人民法院起诉。}
\bxR{n4k3}{2119}{5601}{212}{第九条、其它约定事项\blnk{100}\blnk{80}。}
\lbR{n4k4}{2119}{5801.6}{第十条、本合同未尽事宜}
\bxR{n4k4a}{2265.6}{5663}{211}{一律按《xxx合同法》的有关规定，经合同双方共同协商，作出补充规定，补充规定与本合同具有同等效力。}
\bxR{n4k4b}{2265.6}{5736}{211}{本合同正本一式\blnk{30}份，出租人、承租人各执\blnk{30}份，合同副本\blnk{40}份，送\blnk{30}单位备案。}
\bxR{n4k4c}{2265.6}{5810}{211}{出租人（甲方）：\blnk{50}承租人（乙方）：\blnk{50}}
\bxR{n4k4d}{2265.6}{5872}{211}{电话：\blnk{95}电话：\blnk{95}}
\bxR{n4k4e}{2265.6}{5931}{211}{\blnk{30}年\blnk{30}月\blnk{30}日\blnk{30}年\blnk{30}月\blnk{30}日}
\foreach \c in {n1,n2,n3,n4} {\joinR{B9}{\c}{s9}}
\foreach \c in {n3a,n3b} {\joinR{n3}{\c}{s9a}}
\lineR{n3a}{n3a1}
\lineR{n3b}{n3b1}
\foreach \c in {n4a,n4b,n4c,n4d,n4e,n4f,n4g,n4h,n4i,n4j,n4k} {\joinR{n4}{\c}{s9a}}
\foreach \c in {n4c1,n4c2,n4c3,n4c4,n4c5,n4c6} {\joinR{n4c}{\c}{s9c}}
\lineR{n4c4}{n4c4a}
\foreach \c in {n4c5a,n4c5b} {\joinR{n4c5}{\c}{s9d}}
\lineR{n4f}{n4f1}
\foreach \c in {n4k1,n4k2,n4k3,n4k4} {\joinR{n4k}{\c}{s9e}}
\lineR{n4k1}{n4k1a}
\lineR{n4k2}{n4k2a}
\foreach \c in {n4k4a,n4k4b,n4k4c,n4k4d,n4k4e} {\joinR{n4k4}{\c}{s9f}}
\end{tikzpicture}
\end{document}
